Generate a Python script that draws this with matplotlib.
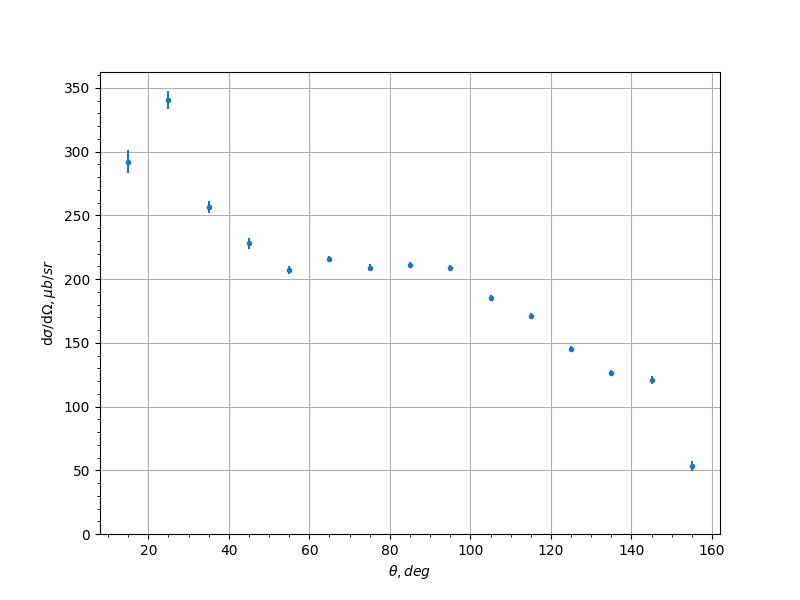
import numpy as np
import matplotlib
matplotlib.use('Agg')
import matplotlib.pyplot as plt

theta = [15, 25, 35, 45, 55, 65, 75, 85, 95, 105, 115, 125, 135, 145, 155]
dsigma = [292, 340.5, 256.5, 228, 207, 215.5, 209, 211, 209, 185, 171, 145, 126.5, 121, 53.5]
err = [9.2, 7.0, 4.6, 4.3, 3.0, 2.5, 2.5, 2.5, 2.0, 2.5, 2.5, 2.5, 2.0, 3.0, 4.0]

fig, ax = plt.subplots(figsize=(8, 6), dpi=100)
ax.errorbar(theta, dsigma, yerr=err, fmt='.')
ax.set_ylim(bottom=0)
ax.minorticks_on()
ax.grid(which='major')
ax.set_xlabel(r'$\theta, deg$')
ax.set_ylabel(r'd$\sigma$/d$\Omega, \mu b/sr$')
fig.savefig('out.png')
